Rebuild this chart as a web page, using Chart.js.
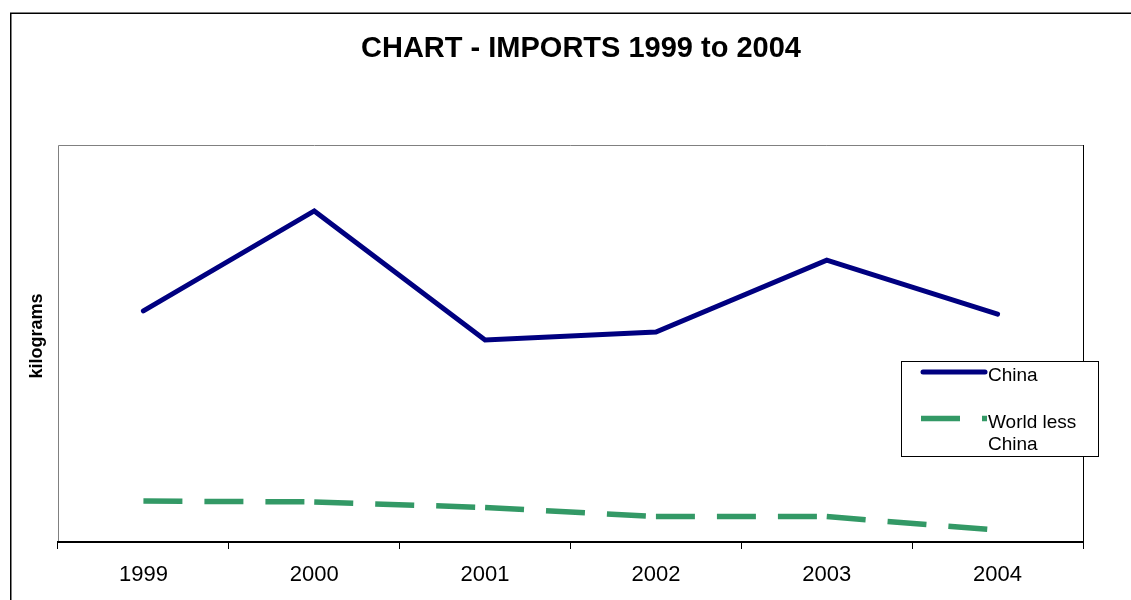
<!DOCTYPE html>
<html>
<head>
<meta charset="utf-8">
<title>CHART - IMPORTS 1999 to 2004</title>
<script src="https://cdn.jsdelivr.net/npm/chart.js@4/dist/chart.umd.min.js"></script>
<style>
  html, body { margin: 0; padding: 0; background: #fff; }
  canvas { display: block; }
</style>
</head>
<body>
<canvas id="chart" width="1131" height="600"></canvas>
<script>
// Years shown on the category axis
const years = ['1999', '2000', '2001', '2002', '2003', '2004'];

// Import volumes (kilograms, relative units; the chart carries no value scale)
const china = [58.2, 83.4, 50.9, 52.9, 71.0, 57.4];
const worldLessChina = [10.3, 10.1, 8.7, 6.4, 6.4, 3.0];

const seriesNames = ['China', 'World less China'];
const chartTitle = 'CHART - IMPORTS 1999 to 2004';
const yTitle = 'kilograms';

const FONT = '"Liberation Sans", Arial, Helvetica, sans-serif';
const NAVY = '#000080';
const GREEN = '#339966';
const DASH = [39, 22];
const DASH_PERIOD = DASH[0] + DASH[1];

// Frame, title, axis title, plot box and the boxed legend
const decorations = {
  id: 'decorations',
  beforeDraw(chart) {
    const ctx = chart.ctx;
    ctx.save();
    ctx.fillStyle = '#fff';
    ctx.fillRect(0, 0, chart.width, chart.height);
    // outer chart frame
    ctx.strokeStyle = '#000';
    ctx.lineWidth = 1.5;
    ctx.strokeRect(10.75, 13.25, chart.width + 20, chart.height + 20);
    // plot box
    const a = chart.chartArea;
    ctx.lineWidth = 1;
    ctx.strokeStyle = '#808080';
    ctx.beginPath();
    ctx.moveTo(a.left + 0.5, a.bottom);
    ctx.lineTo(a.left + 0.5, a.top + 0.5);
    ctx.lineTo(a.right, a.top + 0.5);
    ctx.stroke();
    ctx.strokeStyle = '#000';
    ctx.beginPath();
    ctx.moveTo(a.right + 0.5, a.top);
    ctx.lineTo(a.right + 0.5, a.bottom);
    ctx.stroke();
    // title
    ctx.fillStyle = '#000';
    ctx.font = 'bold 29px ' + FONT;
    ctx.textAlign = 'center';
    ctx.textBaseline = 'middle';
    ctx.fillText(chartTitle, 581, 49);
    // y axis title
    ctx.save();
    ctx.translate(37, 336);
    ctx.rotate(-Math.PI / 2);
    ctx.font = 'bold 18px ' + FONT;
    ctx.fillText(yTitle, 0, 0);
    ctx.restore();
    ctx.restore();
  },
  afterDraw(chart) {
    const ctx = chart.ctx;
    const ds = chart.data.datasets;
    ctx.save();
    // legend box
    ctx.fillStyle = '#fff';
    ctx.fillRect(901, 361, 198, 96);
    ctx.strokeStyle = '#000';
    ctx.lineWidth = 1;
    ctx.strokeRect(901.5, 361.5, 197, 95);
    // China sample
    ctx.strokeStyle = ds[0].borderColor;
    ctx.lineWidth = ds[0].borderWidth;
    ctx.lineCap = 'round';
    ctx.beginPath();
    ctx.moveTo(923, 372);
    ctx.lineTo(985, 372);
    ctx.stroke();
    // World less China sample
    ctx.strokeStyle = ds[1].borderColor;
    ctx.lineWidth = ds[1].borderWidth;
    ctx.lineCap = 'butt';
    ctx.setLineDash(ds[1].borderDash);
    ctx.beginPath();
    ctx.moveTo(921, 418.5);
    ctx.lineTo(987, 418.5);
    ctx.stroke();
    ctx.setLineDash([]);
    // labels
    ctx.fillStyle = '#000';
    ctx.font = '19px ' + FONT;
    ctx.textAlign = 'left';
    ctx.textBaseline = 'alphabetic';
    ctx.fillText(ds[0].label, 988, 381);
    const parts = ds[1].label.split(' ');
    ctx.fillText(parts.slice(0, 2).join(' '), 988, 428);
    ctx.fillText(parts.slice(2).join(' '), 988, 450);
    ctx.restore();
  }
};

new Chart(document.getElementById('chart'), {
  type: 'line',
  data: {
    labels: years,
    datasets: [
      {
        label: seriesNames[0],
        data: china,
        borderColor: NAVY,
        borderWidth: 5,
        borderCapStyle: 'round',
        borderJoinStyle: 'miter',
        pointRadius: 0,
        tension: 0,
        fill: false
      },
      {
        label: seriesNames[1],
        data: worldLessChina,
        borderColor: GREEN,
        borderWidth: 5.5,
        borderDash: DASH,
        borderCapStyle: 'butt',
        pointRadius: 0,
        tension: 0,
        fill: false,
        // the dash pattern restarts at every year: alternate an offset of one
        // full period so each segment is stroked on its own
        segment: {
          borderDashOffset: c => (c.p0DataIndex % 2) * DASH_PERIOD
        }
      }
    ]
  },
  options: {
    responsive: false,
    devicePixelRatio: 1,
    animation: false,
    layout: { padding: { top: 145, right: 48, left: 0, bottom: 0 } },
    plugins: {
      legend: { display: false },
      title: { display: false },
      tooltip: { enabled: false }
    },
    scales: {
      x: {
        type: 'category',
        offset: true,
        grid: {
          offset: true,
          drawOnChartArea: false,
          drawTicks: true,
          tickLength: 7,
          tickColor: '#000',
          tickWidth: 1
        },
        border: { display: true, color: '#000', width: 2 },
        ticks: {
          color: '#000',
          font: { family: FONT, size: 22 },
          padding: 13,
          maxRotation: 0,
          autoSkip: false
        },
        afterFit(scale) { scale.height = 58; }
      },
      y: {
        min: 0,
        max: 100,
        grid: { display: false },
        border: { display: false },
        ticks: { display: false },
        afterFit(scale) { scale.width = 58; }
      }
    }
  },
  plugins: [decorations]
});
</script>
</body>
</html>
